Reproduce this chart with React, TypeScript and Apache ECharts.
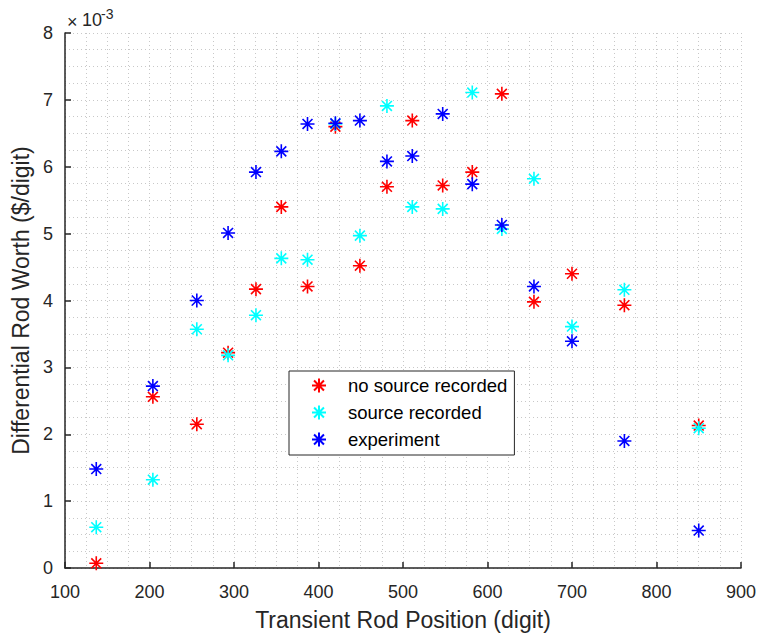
import React, { useEffect, useRef } from "react";
import * as echarts from "echarts";

// Transient rod position (digit)
const positions = [137, 204, 256, 293, 326, 356, 387, 420, 449, 481, 511, 547, 582, 617, 655, 700, 762, 850];
// Differential rod worth, in units of 1e-3 $/digit
const noSourceRecorded = [0.07, 2.56, 2.15, 3.22, 4.17, 5.40, 4.21, 6.60, 4.52, 5.70, 6.69, 5.72, 5.92, 7.09, 3.98, 4.40, 3.93, 2.13];
const sourceRecorded = [0.61, 1.32, 3.57, 3.18, 3.78, 4.63, 4.61, 6.64, 4.97, 6.91, 5.40, 5.37, 7.11, 5.07, 5.82, 3.61, 4.16, 2.09];
const experiment = [1.48, 2.72, 4.00, 5.01, 5.92, 6.23, 6.64, 6.65, 6.69, 6.08, 6.16, 6.79, 5.74, 5.13, 4.21, 3.39, 1.90, 0.56];

const seriesNames = ["no source recorded", "source recorded", "experiment"];
const seriesColors = ["#ff0000", "#00ffff", "#0000ff"];
const seriesValues = [noSourceRecorded, sourceRecorded, experiment];

const xTitle = "Transient Rod Position (digit)";
const yTitle = "Differential Rod Worth ($/digit)";

const STAR = "path://M0,-10L0,10M-10,0L10,0M-7.07,-7.07L7.07,7.07M-7.07,7.07L7.07,-7.07";
const FONT = "Liberation Sans, Arial, Helvetica, sans-serif";
const TXT = "#262626";

export default function App() {
  const ref = useRef<HTMLDivElement>(null);
  useEffect(() => {
    document.body.style.margin = "0";
    if (!ref.current) return;
    const chart = echarts.init(ref.current, undefined, { renderer: "svg" });
    const gridLine = { show: true, lineStyle: { color: "#c8c8c8", type: [1, 3] as any, width: 1 } };
    chart.setOption({
      animation: false,
      backgroundColor: "#ffffff",
      textStyle: { fontFamily: FONT },
      grid: { left: 65, right: 18, top: 33, bottom: 69, containLabel: false },
      legend: {
        orient: "vertical",
        left: 289,
        top: 371,
        padding: [5, 7, 6, 22],
        itemGap: 8,
        itemWidth: 14,
        itemHeight: 14,
        borderColor: TXT,
        borderWidth: 1,
        borderRadius: 0,
        backgroundColor: "#ffffff",
        data: seriesNames,
        textStyle: { fontFamily: FONT, fontSize: 18.5, color: "#000000", lineHeight: 18, padding: [0, 0, 0, 17] },
      },
      xAxis: {
        type: "value",
        min: 100,
        max: 900,
        interval: 100,
        name: xTitle,
        nameLocation: "middle",
        nameGap: 40,
        nameTextStyle: { fontFamily: FONT, fontSize: 23, color: TXT, lineHeight: 23 },
        axisLine: { show: true, onZero: false, lineStyle: { color: TXT, width: 1.5 } },
        axisTick: { show: true, inside: true, length: 6, lineStyle: { color: TXT, width: 1.5 } },
        axisLabel: { fontFamily: FONT, fontSize: 18, color: TXT, margin: 15 },
        splitLine: gridLine,
        minorTick: { show: false, splitNumber: 4 },
        minorSplitLine: gridLine,
      },
      yAxis: {
        type: "value",
        min: 0,
        max: 8,
        interval: 1,
        name: yTitle,
        nameLocation: "middle",
        nameRotate: 90,
        nameGap: 30,
        nameTextStyle: { fontFamily: FONT, fontSize: 23, color: TXT, lineHeight: 23 },
        axisLine: { show: true, onZero: false, lineStyle: { color: TXT, width: 1.5 } },
        axisTick: { show: true, inside: true, length: 6, lineStyle: { color: TXT, width: 1.5 } },
        axisLabel: { fontFamily: FONT, fontSize: 18, color: TXT, margin: 12 },
        splitLine: gridLine,
        minorTick: { show: false, splitNumber: 4 },
        minorSplitLine: gridLine,
      },
      graphic: [
        { type: "text", left: 67, top: 13, style: { text: "×", fontFamily: FONT, fontSize: 18, fill: TXT } },
        { type: "text", left: 82, top: 11, style: { text: "10", fontFamily: FONT, fontSize: 18, fill: TXT } },
        { type: "text", left: 101, top: 7, style: { text: "-3", fontFamily: FONT, fontSize: 14, fill: TXT } },
      ],
      series: seriesNames.map((name, i) => ({
        name,
        type: "scatter",
        symbol: STAR,
        symbolSize: 14,
        symbolKeepAspect: true,
        itemStyle: { color: seriesColors[i], borderColor: seriesColors[i], borderWidth: 1.6, opacity: 1 },
        emphasis: { disabled: true },
        data: positions.map((p, j) => [p, seriesValues[i][j]]),
        z: 2 + i,
      })),
    });
    return () => chart.dispose();
  }, []);
  return <div ref={ref} style={{ width: 759, height: 637 }} />;
}
